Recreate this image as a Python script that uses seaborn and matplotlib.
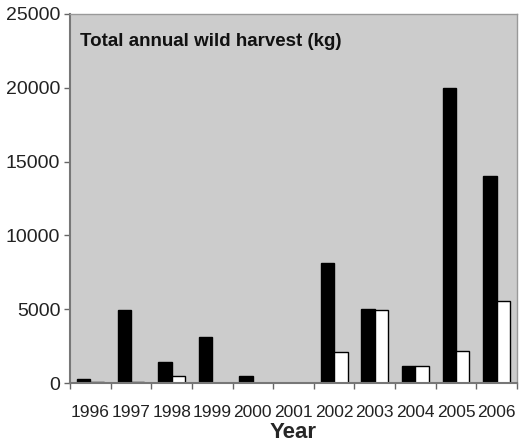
import numpy as np
import pandas as pd
import matplotlib
matplotlib.use("Agg")
import matplotlib.pyplot as plt
import seaborn as sns
from matplotlib.ticker import FixedLocator

years = ["1996", "1997", "1998", "1999", "2000", "2001", "2002", "2003", "2004", "2005", "2006"]
series_black = [270, 4950, 1430, 3100, 480, None, 8100, 5000, 1170, 20000, 14050]
series_white = [40, 40, 470, None, None, None, 2100, 4950, 1170, 2180, 5550]
series_names = ["Series 1", "Series 2"]
y_ticks = [0, 5000, 10000, 15000, 20000, 25000]

df = pd.DataFrame({
    "Year": years * 2,
    "Harvest": series_black + series_white,
    "Series": [series_names[0]] * len(years) + [series_names[1]] * len(years),
})
df["Harvest"] = pd.to_numeric(df["Harvest"])

sns.set_style("white")
plt.rcParams["font.family"] = ["Liberation Sans", "DejaVu Sans"]

fig = plt.figure(figsize=(5.2, 4.43), dpi=100)
ax = fig.add_axes([70 / 520, 1 - 383 / 443, (517 - 70) / 520, (383 - 14) / 443])
ax.set_facecolor("#cccccc")

sns.barplot(data=df, x="Year", y="Harvest", hue="Series", order=years,
            hue_order=series_names, palette=["black", "white"],
            edgecolor="black", linewidth=1.0, width=0.66, ax=ax, legend=False)

ax.set_xlim(-0.5, len(years) - 0.5)
ax.set_ylim(0, 25000)
ax.set_yticks(y_ticks)
ax.set_yticklabels([str(t) for t in y_ticks], fontsize=14, color="#222222")
ax.set_xticks(range(len(years)))
ax.set_xticklabels(years, fontsize=12.5, color="#222222")
ax.xaxis.set_minor_locator(FixedLocator(np.arange(-0.5, len(years), 1.0)))
ax.tick_params(axis="x", which="major", length=0, pad=16)
ax.tick_params(axis="x", which="minor", length=4, width=1, color="#666666", direction="out", bottom=True)
ax.tick_params(axis="y", which="major", length=4, width=1, color="#666666", direction="out", left=True, pad=3)

for side in ["left", "bottom"]:
    ax.spines[side].set_color("#777777")
    ax.spines[side].set_linewidth(1.5)
for side in ["top", "right"]:
    ax.spines[side].set_color("#999999")
    ax.spines[side].set_linewidth(1.0)

ax.set_ylabel("")
ax.set_xlabel("Year", fontsize=16, fontweight="bold", labelpad=1)
ax.text(0.022, 0.925, "Total annual wild harvest (kg)", transform=ax.transAxes,
        fontsize=13.5, fontweight="bold", color="#111111", va="center", ha="left")

fig.savefig("out.png", dpi=100)
